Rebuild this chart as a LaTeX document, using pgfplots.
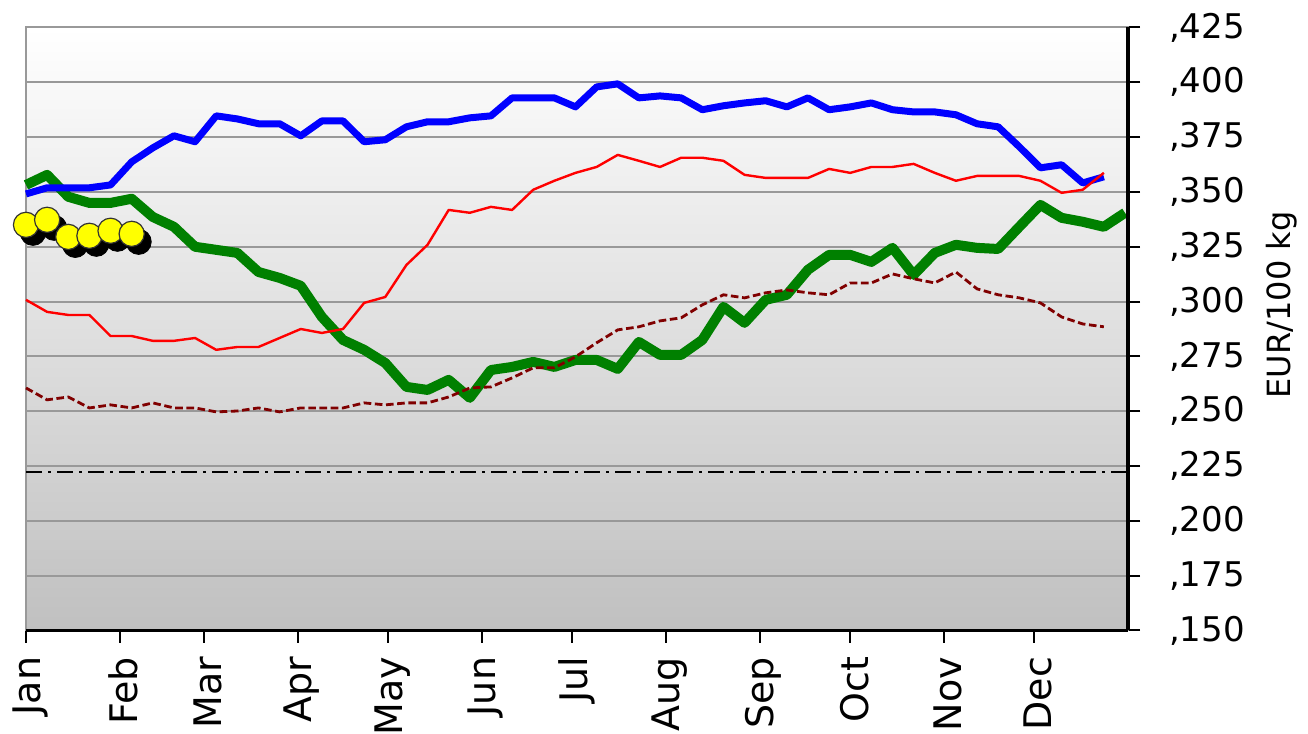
\documentclass[border=0pt]{standalone}
\usepackage{fontspec}
\setmainfont{DejaVu Sans}
\usepackage{pgfplots}
\usepackage{pgfplotstable}
\pgfplotsset{compat=1.18}
\definecolor{cblue}{RGB}{0,0,255}
\definecolor{cred}{RGB}{255,0,0}
\definecolor{cgreen}{RGB}{0,128,0}
\definecolor{cmaroon}{RGB}{128,0,0}
\definecolor{cyellow}{RGB}{255,255,0}
\definecolor{cgrid}{RGB}{153,153,153}
\definecolor{cbottom}{RGB}{192,192,192}

\pgfplotstableread{
k v
0 0.3491
1 0.3519
2 0.3519
3 0.3519
4 0.3532
5 0.3637
6 0.3701
7 0.3756
8 0.3729
9 0.3847
10 0.3833
11 0.3811
12 0.3811
13 0.3756
14 0.3824
15 0.3824
16 0.3729
17 0.3738
18 0.3797
19 0.3820
20 0.3820
21 0.3838
22 0.3847
23 0.3929
24 0.3929
25 0.3929
26 0.3888
27 0.3979
28 0.3993
29 0.3929
30 0.3938
31 0.3929
32 0.3875
33 0.3893
34 0.3906
35 0.3916
36 0.3888
37 0.3929
38 0.3875
39 0.3888
40 0.3906
41 0.3875
42 0.3865
43 0.3865
44 0.3852
45 0.3811
46 0.3797
47 0.3706
48 0.3610
49 0.3624
50 0.3541
51 0.3569
}\blueT

\pgfplotstableread{
k v
0 0.3008
1 0.2953
2 0.2939
3 0.2939
4 0.2843
5 0.2843
6 0.2821
7 0.2821
8 0.2834
9 0.2780
10 0.2793
11 0.2793
12 0.2834
13 0.2875
14 0.2857
15 0.2875
16 0.2994
17 0.3021
18 0.3167
19 0.3259
20 0.3418
21 0.3405
22 0.3432
23 0.3418
24 0.3510
25 0.3551
26 0.3587
27 0.3614
28 0.3669
29 0.3642
30 0.3614
31 0.3656
32 0.3656
33 0.3642
34 0.3578
35 0.3564
36 0.3564
37 0.3564
38 0.3605
39 0.3587
40 0.3614
41 0.3614
42 0.3628
43 0.3587
44 0.3551
45 0.3573
46 0.3573
47 0.3573
48 0.3551
49 0.3496
50 0.3510
51 0.3587
}\redT

\pgfplotstableread{
k v
0 0.3532
1 0.3578
2 0.3478
3 0.3450
4 0.3450
5 0.3469
6 0.3386
7 0.3341
8 0.3250
9 0.3236
10 0.3222
11 0.3135
12 0.3108
13 0.3072
14 0.2930
15 0.2825
16 0.2780
17 0.2720
18 0.2611
19 0.2597
20 0.2643
21 0.2561
22 0.2688
23 0.2702
24 0.2725
25 0.2702
26 0.2734
27 0.2734
28 0.2693
29 0.2816
30 0.2757
31 0.2757
32 0.2825
33 0.2976
34 0.2903
35 0.3008
36 0.3031
37 0.3145
38 0.3213
39 0.3213
40 0.3181
41 0.3245
42 0.3122
43 0.3222
44 0.3259
45 0.3245
46 0.3240
47 0.3341
48 0.3441
49 0.3382
50 0.3364
51 0.3341
52 0.3405
}\greenT

\pgfplotstableread{
k v
0 0.2606
1 0.2552
2 0.2565
3 0.2515
4 0.2529
5 0.2515
6 0.2538
7 0.2515
8 0.2515
9 0.2497
10 0.2501
11 0.2515
12 0.2497
13 0.2515
14 0.2515
15 0.2515
16 0.2538
17 0.2529
18 0.2538
19 0.2538
20 0.2565
21 0.2606
22 0.2611
23 0.2652
24 0.2698
25 0.2698
26 0.2748
27 0.2812
28 0.2871
29 0.2885
30 0.2912
31 0.2926
32 0.2985
33 0.3031
34 0.3017
35 0.3040
36 0.3053
37 0.3040
38 0.3031
39 0.3085
40 0.3085
41 0.3126
42 0.3104
43 0.3085
44 0.3135
45 0.3058
46 0.3031
47 0.3017
48 0.2994
49 0.2930
50 0.2898
51 0.2885
}\maroonT

\pgfplotstableread{
k v
0 0.3350
1 0.3373
2 0.3295
3 0.3300
4 0.3323
5 0.3309
}\yellowT

\begin{document}
\begin{tikzpicture}
\useasboundingbox (-13pt,-51.75pt) rectangle (641pt,315.25pt);
\begin{axis}[
  scale only axis,
  width=551pt, height=301.5pt,
  xmin=0, xmax=365,
  ymin=0.150, ymax=0.425,
  clip=false,
  axis background/.style={top color=white, bottom color=cbottom},
  axis line style={draw=cgrid, line width=1pt},
  ymajorgrids,
  major grid style={draw=cgrid, line width=1pt},
  xtick={0,31,59,90,120,151,181,212,243,273,304,334},
  xticklabels={Jan,Feb,Mar,Apr,May,Jun,Jul,Aug,Sep,Oct,Nov,Dec},
  ytick={0.150,0.175,0.200,0.225,0.250,0.275,0.300,0.325,0.350,0.375,0.400,0.425},
  yticklabels={{,150},{,175},{,200},{,225},{,250},{,275},{,300},{,325},{,350},{,375},{,400},{,425}},
  xtick pos=bottom,
  ytick pos=right,
  yticklabel pos=right,
  tick align=outside,
  major tick length=6pt,
  tick style={black, line width=1pt},
  xticklabel style={rotate=90, anchor=east, font=\fontsize{19}{22}\selectfont, inner sep=1pt, xshift=-6pt, yshift=-2pt},
  yticklabel style={anchor=west, font=\fontsize{17}{20}\selectfont, xshift=11pt},
  ylabel={EUR/100 kg},
  every axis y label/.style={at={(rel axis cs:1,0.54)}, xshift=77pt, rotate=90, anchor=center, font=\fontsize{16}{19}\selectfont},
]
\addplot[cgreen, line width=5pt, line join=round] table[x expr=\thisrow{k}*7, y=v] {\greenT};
\addplot[cblue, line width=3.5pt, line join=round] table[x expr=\thisrow{k}*7, y=v] {\blueT};
\addplot[cred, line width=1.2pt, line join=round] table[x expr=\thisrow{k}*7, y=v] {\redT};
\addplot[cmaroon, line width=1.4pt, dash pattern=on 3.8pt off 1.8pt] table[x expr=\thisrow{k}*7, y=v] {\maroonT};
\addplot[black, line width=1pt, dash pattern=on 8pt off 3pt on 1.5pt off 3pt] coordinates {(0,0.2223) (365,0.2223)};
\addplot[only marks, mark=*, mark size=6.3pt, black, mark options={xshift=3.5pt, yshift=-4pt}] table[x expr=\thisrow{k}*7, y=v] {\yellowT};
\addplot[only marks, mark=*, mark size=6.3pt, mark options={fill=cyellow, draw=black!80, line width=0.6pt}] table[x expr=\thisrow{k}*7, y=v] {\yellowT};
\draw[black, line width=1.5pt] (rel axis cs:0,0) -- (rel axis cs:1,0);
\draw[black, line width=2pt] (rel axis cs:1,0) -- (rel axis cs:1,1);
\end{axis}
\end{tikzpicture}
\end{document}
